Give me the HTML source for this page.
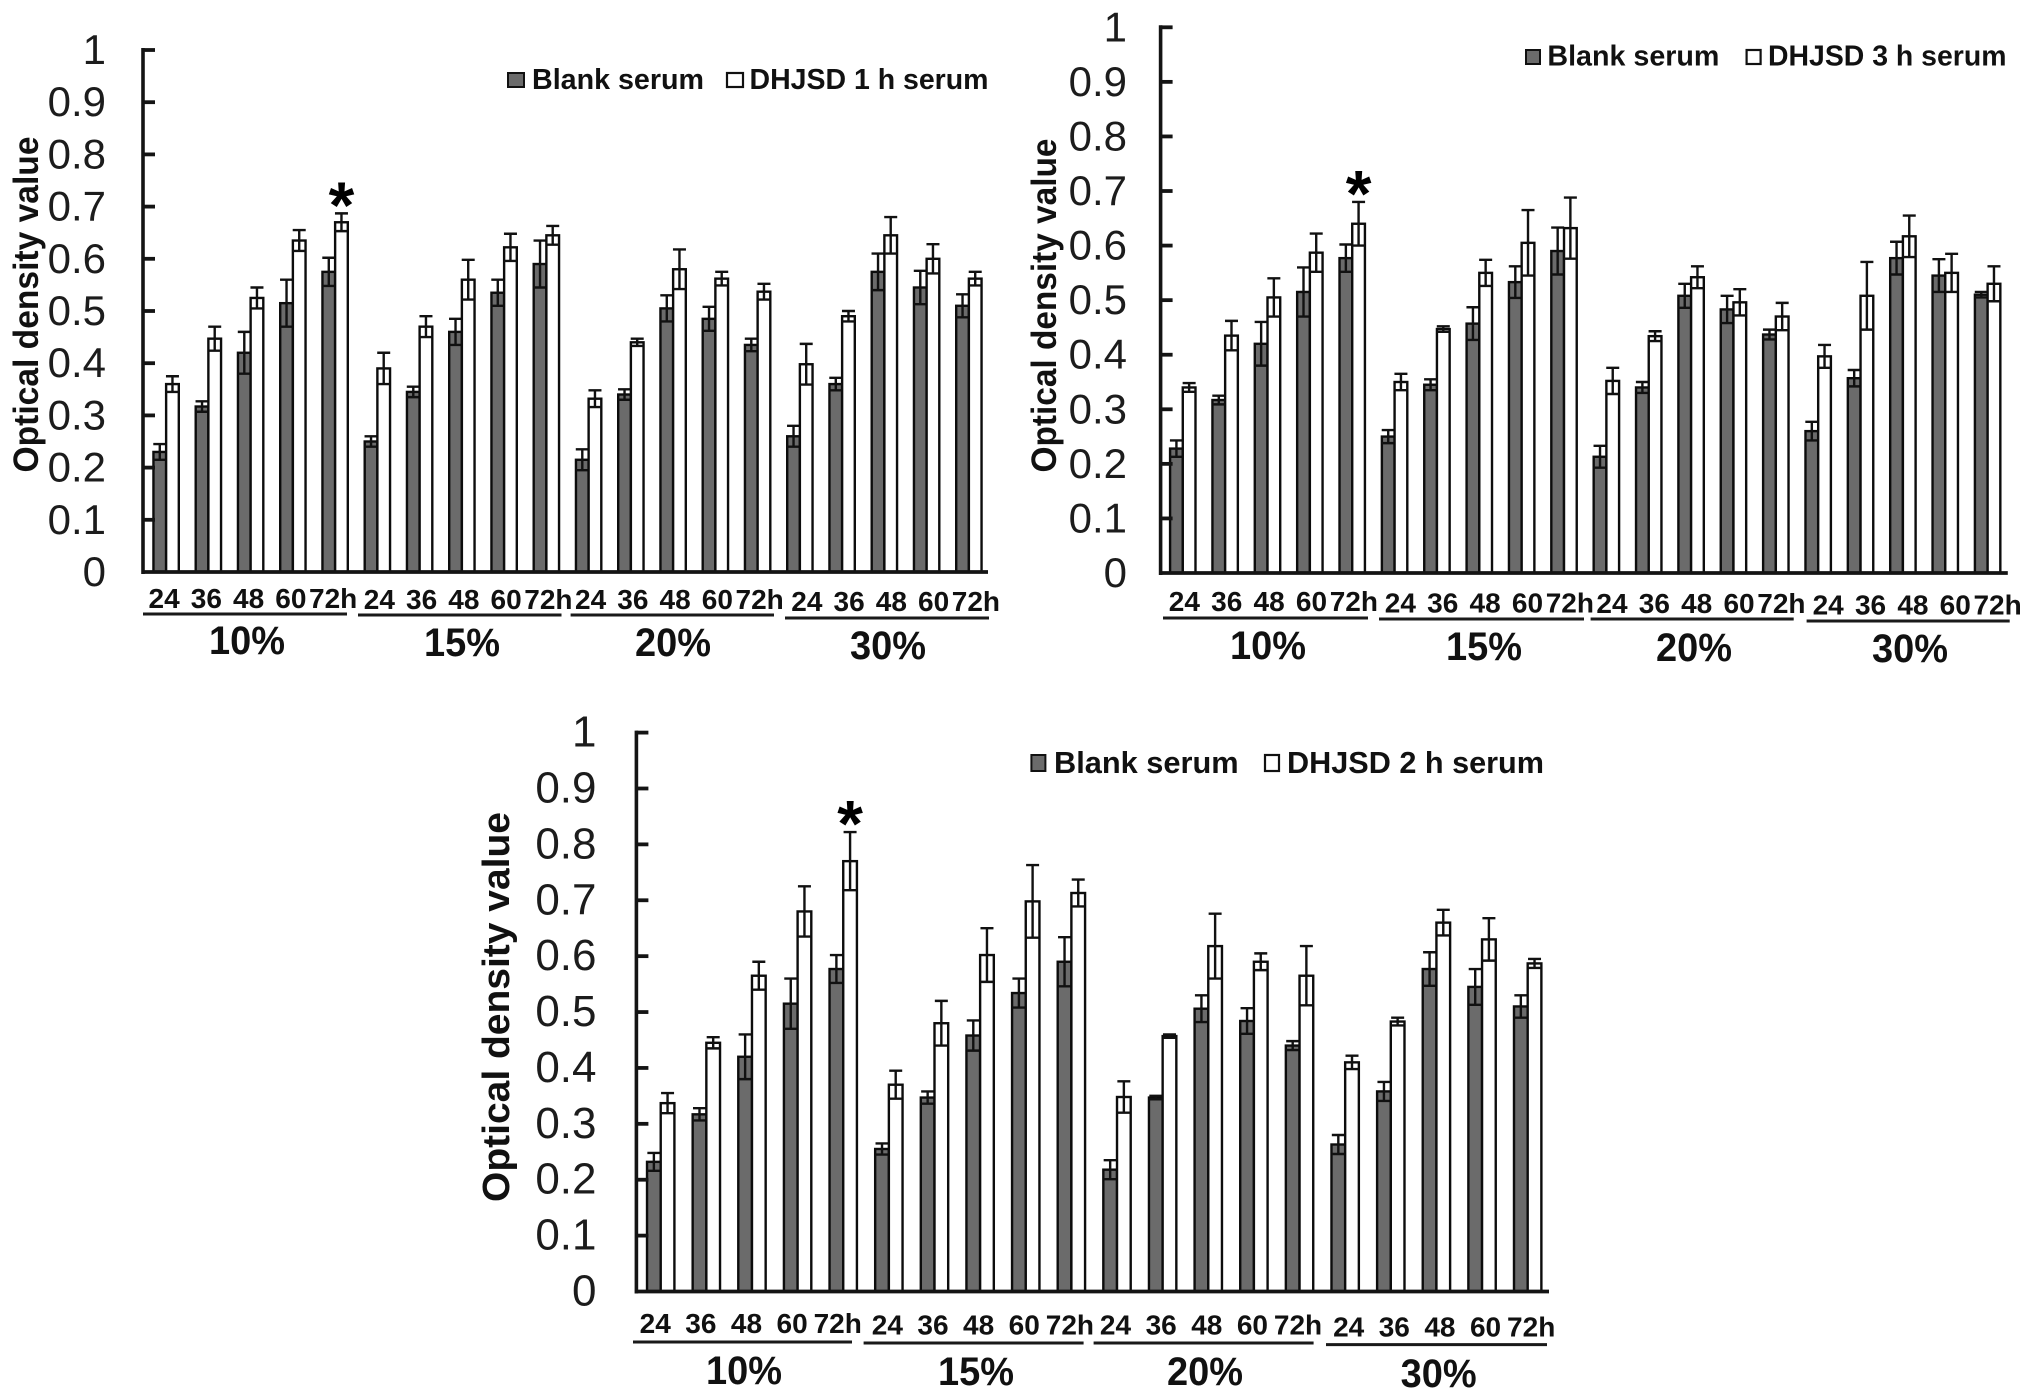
<!DOCTYPE html>
<html lang="en">
<head>
<meta charset="utf-8">
<title>Optical density value by serum concentration and time</title>
<style>
html,body{margin:0;padding:0;background:#fff;}
body{width:2031px;height:1400px;overflow:hidden;}
svg{display:block;font-family:"Liberation Sans",Arial,sans-serif;}
</style>
</head>
<body>
<svg id="figure" width="2031" height="1400" viewBox="0 0 2031 1400" xmlns="http://www.w3.org/2000/svg"></svg>
<script>
const timeLabels = ["24","36","48","60","72h"];
const groupLabels = ["10%","15%","20%","30%"];
const yTickValues = [0,0.1,0.2,0.3,0.4,0.5,0.6,0.7,0.8,0.9,1];

const blank1h = [0.23,0.317,0.42,0.515,0.575, 0.25,0.345,0.46,0.535,0.59, 0.215,0.34,0.505,0.485,0.435, 0.26,0.36,0.575,0.545,0.51];
const blankUpper1h = [0.245,0.327,0.46,0.56,0.602, 0.26,0.355,0.485,0.56,0.635, 0.235,0.35,0.53,0.508,0.447, 0.28,0.372,0.61,0.577,0.532];
const dhjsd1h = [0.36,0.447,0.525,0.635,0.67, 0.39,0.47,0.56,0.622,0.645, 0.332,0.44,0.58,0.562,0.537, 0.398,0.49,0.645,0.6,0.562];
const dhjsdUpper1h = [0.375,0.47,0.545,0.655,0.687, 0.42,0.49,0.598,0.648,0.663, 0.348,0.447,0.618,0.575,0.552, 0.437,0.5,0.68,0.628,0.575];

const blank3h = [0.228,0.317,0.42,0.515,0.577, 0.25,0.345,0.457,0.533,0.59, 0.213,0.34,0.508,0.483,0.437, 0.26,0.357,0.577,0.545,0.51];
const blankUpper3h = [0.243,0.325,0.46,0.56,0.602, 0.262,0.355,0.487,0.562,0.633, 0.233,0.35,0.53,0.508,0.446, 0.277,0.372,0.607,0.575,0.515];
const dhjsd3h = [0.34,0.435,0.505,0.587,0.64, 0.35,0.447,0.55,0.605,0.632, 0.352,0.434,0.542,0.496,0.47, 0.397,0.508,0.617,0.55,0.53];
const dhjsdUpper3h = [0.348,0.462,0.54,0.622,0.68, 0.365,0.452,0.574,0.665,0.688, 0.376,0.443,0.562,0.52,0.495, 0.418,0.57,0.655,0.585,0.562];

const blank2h = [0.232,0.317,0.42,0.515,0.577, 0.255,0.347,0.458,0.534,0.59, 0.218,0.347,0.506,0.484,0.44, 0.263,0.358,0.577,0.545,0.51];
const blankUpper2h = [0.248,0.328,0.46,0.56,0.602, 0.265,0.358,0.485,0.56,0.634, 0.235,0.35,0.53,0.507,0.448, 0.28,0.375,0.607,0.577,0.53];
const dhjsd2h = [0.337,0.445,0.565,0.68,0.77, 0.37,0.48,0.602,0.698,0.713, 0.348,0.457,0.618,0.59,0.565, 0.41,0.483,0.66,0.63,0.587];
const dhjsdUpper2h = [0.355,0.455,0.59,0.725,0.822, 0.395,0.52,0.65,0.763,0.737, 0.376,0.46,0.676,0.605,0.618, 0.422,0.49,0.683,0.668,0.595];

const NS = "http://www.w3.org/2000/svg";
const INK = "#141414";
const BAR_GRAY = "#6b6b6b";

function make(parent, tag, attrs, text) {
  const el = document.createElementNS(NS, tag);
  for (const k in attrs) el.setAttribute(k, attrs[k]);
  if (text !== undefined) el.textContent = text;
  parent.appendChild(el);
  return el;
}

function drawChart(cfg) {
  const root = document.getElementById("figure");
  const g = make(root, "g", {});
  
  

  const count = cfg.blank.length;
  const band = (cfg.x1 - cfg.x0) / count;
  const barW = band * 0.3;
  const xCenter = i => cfg.x0 + (i + 0.5) * band;
  const yScale = v => cfg.yBase - v * (cfg.yBase - cfg.yTop);

  function bar(i, value, upper, fill, label) {
    const left = (fill === "#fff" ? xCenter(i) : xCenter(i) - barW) + cfg.barShift;
    const rect = make(g, "rect", {
      x: left, y: yScale(value), width: barW, height: cfg.yBase - yScale(value),
      fill: fill, stroke: "#0c0c0c", "stroke-width": 2.4
    });
    
    
    const cx = left + barW / 2;
    const lower = 2 * value - upper;
    const d = "M" + cx + " " + yScale(upper) + "V" + yScale(lower) +
      "M" + (cx - 6.5) + " " + yScale(upper) + "H" + (cx + 6.5) +
      "M" + (cx - 6.5) + " " + yScale(lower) + "H" + (cx + 6.5);
    const err = make(g, "path", { d: d, fill: "none", stroke: "#111", "stroke-width": 2.4 });
    
    
  }

  for (let i = 0; i < count; i++) {
    bar(i, cfg.blank[i], cfg.blankUpper[i], BAR_GRAY, "blank-serum");
    bar(i, cfg.dhjsd[i], cfg.dhjsdUpper[i], "#fff", "dhjsd-serum");
  }

  const yAxis = make(g, "line", { x1: cfg.x0, x2: cfg.x0, y1: cfg.yTop - 2, y2: cfg.yBase + 2, stroke: INK, "stroke-width": 3.6 });
  
  
  const xAxis = make(g, "line", { x1: cfg.x0 - 1.5, x2: cfg.x1, y1: cfg.yBase, y2: cfg.yBase, stroke: INK, "stroke-width": 3.8 });
  
  

  yTickValues.forEach(v => {
    const y = yScale(v);
    if (v > 0) {
      const tick = make(g, "line", { x1: cfg.x0, x2: cfg.x0 + 12, y1: y, y2: y, stroke: INK, "stroke-width": 3.8 });
      
      
    }
    const label = make(g, "text", {
      x: cfg.tickRight, y: y + 14, "text-anchor": "end",
      "font-size": cfg.tickFont, fill: "#1c1c1c"
    }, String(v));
    
    
  });

  const title = make(g, "text", {
    transform: "translate(" + cfg.titleX + " " + cfg.titleY + ") rotate(-90)",
    "text-anchor": "middle", "font-size": cfg.titleFont, "font-weight": "bold", fill: "#111",
    textLength: cfg.titleLen, lengthAdjust: "spacingAndGlyphs"
  }, "Optical density value");
  
  

  for (let i = 0; i < count; i++) {
    const groupIndex = Math.floor(i / timeLabels.length);
    const t = timeLabels[i % timeLabels.length];
    const label = make(g, "text", {
      x: xCenter(i) + cfg.tickShift[groupIndex], y: cfg.tickBase[groupIndex],
      "text-anchor": "middle", "font-size": 28, "font-weight": "bold", fill: "#111"
    }, t);
    
    
  }

  groupLabels.forEach((name, gi) => {
    const u = cfg.underlines[gi];
    const line = make(g, "line", { x1: u[0], x2: u[1], y1: u[2], y2: u[2], stroke: "#1a1a1a", "stroke-width": 3 });
    
    
    const p = cfg.groupPos[gi];
    const label = make(g, "text", {
      x: p[0], y: p[1], "text-anchor": "middle", "font-size": 40, "font-weight": "bold", fill: "#111",
      textLength: cfg.groupLen, lengthAdjust: "spacingAndGlyphs"
    }, name);
    
    
  });

  const star = make(g, "text", {
    x: xCenter(4) + barW / 2 + cfg.barShift, y: yScale(cfg.dhjsdUpper[4]) + 14.5,
    "text-anchor": "middle", "font-size": 66, "font-weight": "bold", fill: "#000"
  }, "*");
  
  

  const L = cfg.legend;
  const swatchA = make(g, "rect", { x: L.ax, y: L.sy, width: L.sw, height: L.sh, fill: BAR_GRAY, stroke: "#111", "stroke-width": 2 });
  
  
  const textA = make(g, "text", {
    x: L.atx, y: L.base, "font-size": L.font, "font-weight": "bold", fill: "#111",
    textLength: L.alen, lengthAdjust: "spacingAndGlyphs"
  }, "Blank serum");
  
  
  const swatchB = make(g, "rect", { x: L.bx, y: L.sy, width: L.sw, height: L.sh, fill: "#fff", stroke: "#111", "stroke-width": 2.2 });
  
  
  const textB = make(g, "text", {
    x: L.btx, y: L.base, "font-size": L.font, "font-weight": "bold", fill: "#111",
    textLength: L.blen, lengthAdjust: "spacingAndGlyphs"
  }, cfg.seriesName);
  
  
}

drawChart({
  name: "chart-dhjsd-1h", seriesName: "DHJSD 1 h serum",
  blank: blank1h, blankUpper: blankUpper1h, dhjsd: dhjsd1h, dhjsdUpper: dhjsdUpper1h,
  x0: 143, x1: 988, yTop: 50, yBase: 572, barShift: 2,
  tickRight: 106, tickFont: 42, titleX: 38, titleY: 304.5, titleFont: 35, titleLen: 336,
  tickShift: [0, 4, 4, 9], tickBase: [608, 609, 609, 611],
  underlines: [[143,347,614],[358,561.5,615],[570.6,774,615],[785,989,618]],
  groupPos: [[247,654],[462,656],[673,656],[888,659]], groupLen: 76,
  legend: { ax: 508, bx: 727, sy: 73, sw: 16, sh: 14, atx: 532, alen: 172, btx: 749.5, blen: 239, base: 89, font: 28.5 }
});

drawChart({
  name: "chart-dhjsd-3h", seriesName: "DHJSD 3 h serum",
  blank: blank3h, blankUpper: blankUpper3h, dhjsd: dhjsd3h, dhjsdUpper: dhjsdUpper3h,
  x0: 1160.6, x1: 2007.8, yTop: 27.3, yBase: 573, barShift: 1,
  tickRight: 1127, tickFont: 42, titleX: 1056, titleY: 305.5, titleFont: 35, titleLen: 334,
  tickShift: [2.6, 6.8, 6.6, 11], tickBase: [611, 612.5, 613, 614.6],
  underlines: [[1163,1368,618],[1379,1584,619],[1590.6,1793.7,619],[1806.6,2009.7,621]],
  groupPos: [[1268,659],[1484,660],[1694,661],[1910,662]], groupLen: 76,
  legend: { ax: 1526, bx: 1746.6, sy: 50, sw: 14, sh: 14, atx: 1547.4, alen: 172, btx: 1768, blen: 238.5, base: 65.5, font: 28.5 }
});

drawChart({
  name: "chart-dhjsd-2h", seriesName: "DHJSD 2 h serum",
  blank: blank2h, blankUpper: blankUpper2h, dhjsd: dhjsd2h, dhjsdUpper: dhjsdUpper2h,
  x0: 636.4, x1: 1549, yTop: 732.6, yBase: 1291.5, barShift: 1.5,
  tickRight: 596.5, tickFont: 44, titleX: 509, titleY: 1007, titleFont: 38, titleLen: 390,
  tickShift: [-4, 0, 0, 5], tickBase: [1333, 1334.5, 1334.5, 1336.5],
  underlines: [[633,852,1342],[863.6,1083.6,1343],[1093.6,1313.6,1343],[1326,1547,1344.6]],
  groupPos: [[744,1384],[976,1385],[1205,1385],[1438.6,1387]], groupLen: 76,
  legend: { ax: 1031.4, bx: 1265, sy: 755, sw: 14, sh: 16, atx: 1054, alen: 184.6, btx: 1287, blen: 257, base: 773, font: 31 }
});
</script>
</body>
</html>
